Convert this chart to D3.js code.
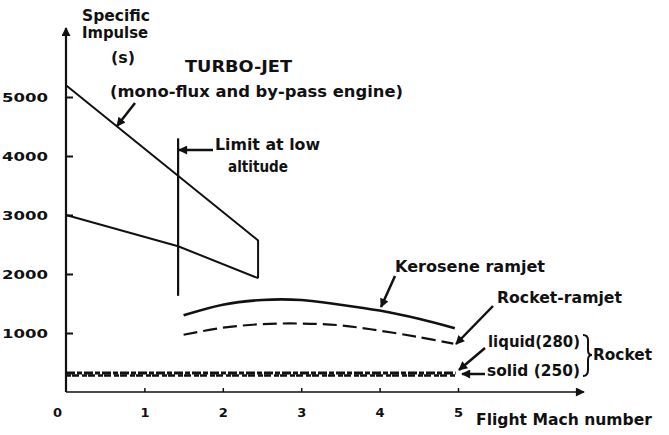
<!DOCTYPE html>
<html>
<head>
<meta charset="utf-8">
<script src="https://cdn.jsdelivr.net/npm/d3@7"></script>
<style>
body { margin: 0; background: #fff; }
text { font-family: "DejaVu Sans", "Liberation Sans", sans-serif; font-weight: bold; fill: #111; }
</style>
</head>
<body>
<div id="main_div"></div>
<script>
// values (Mach number, specific impulse in s)
var xTicks = [0, 1, 2, 3, 4, 5];
var yTicks = [1000, 2000, 3000, 4000, 5000];
var turboUpper = [[0, 5200], [2.45, 2570]];
var turboLower = [[0, 3000], [1.43, 2470], [2.45, 1930]];
var limitLow = [[1.43, 4300], [1.43, 1630]];
var kerosene = [[1.5, 1300], [2, 1480], [2.5, 1560], [3, 1560], [3.5, 1480], [4, 1380], [4.5, 1240], [4.96, 1080]];
var rocketRamjet = [[1.5, 970], [2, 1090], [2.5, 1150], [3, 1160], [3.5, 1130], [4, 1040], [4.5, 930], [4.94, 820]];
var rocketLiquid = [[0, 320], [4.97, 320]];
var rocketSolid = [[0, 280], [4.97, 280]];

var x_scale = d3.scaleLinear().domain([0, 5]).range([66, 458]);
var y_scale = d3.scaleLinear().domain([0, 5000]).range([392, 97]);

var svg = d3.select("#main_div").append("svg").attr("width", 669).attr("height", 435);

var defs = svg.append("defs");
defs.append("marker").attr("id", "head").attr("viewBox", "0 0 10 10")
    .attr("refX", 9).attr("refY", 5).attr("markerWidth", 13).attr("markerHeight", 9)
    .attr("markerUnits", "userSpaceOnUse").attr("orient", "auto")
    .append("path").attr("d", "M0,0 L10,5 L0,10 Z").attr("fill", "#111");

var line = d3.line().x(function(d) { return x_scale(d[0]); }).y(function(d) { return y_scale(d[1]); });
var curve = d3.line().curve(d3.curveCatmullRom).x(function(d) { return x_scale(d[0]); }).y(function(d) { return y_scale(d[1]); });

// axes
var g_y = svg.append("g").attr("transform", "translate(" + x_scale(0) + ",0)")
    .call(d3.axisLeft(y_scale).tickValues(yTicks).tickSizeInner(-7).tickSizeOuter(0).tickPadding(18).tickFormat(d3.format("d")));
g_y.select(".domain").remove();
g_y.selectAll(".tick line").attr("stroke", "#111").attr("stroke-width", 2);
g_y.selectAll(".tick text").attr("font-size", 13).attr("textLength", 46).attr("lengthAdjust", "spacingAndGlyphs")
    .attr("font-family", "DejaVu Sans").attr("fill", "#111");

var g_x = svg.append("g").attr("transform", "translate(0," + y_scale(0) + ")")
    .call(d3.axisBottom(x_scale).tickValues(xTicks).tickSizeInner(-4).tickSizeOuter(0).tickPadding(16).tickFormat(d3.format("d")));
g_x.select(".domain").remove();
g_x.selectAll(".tick line").attr("stroke", "#111").attr("stroke-width", 1.5);
g_x.selectAll(".tick text").attr("font-size", 13).attr("font-family", "DejaVu Sans").attr("fill", "#111");
g_x.selectAll(".tick").filter(function(d) { return d === 0; }).select("text").attr("dx", -9);
g_x.selectAll(".tick").filter(function(d) { return d === 0; }).select("line").remove();

svg.append("line").attr("x1", x_scale(0)).attr("x2", x_scale(0)).attr("y1", y_scale(0)).attr("y2", 28)
    .attr("stroke", "#111").attr("stroke-width", 2.2).attr("marker-end", "url(#head)");
svg.append("line").attr("x1", x_scale(0)).attr("x2", 584).attr("y1", y_scale(0)).attr("y2", y_scale(0))
    .attr("stroke", "#111").attr("stroke-width", 1.6).attr("marker-end", "url(#head)");

// curves
function draw(data, gen, w, dash) {
    svg.append("path").attr("d", gen(data)).attr("fill", "none").attr("stroke", "#111")
        .attr("stroke-width", w).attr("stroke-dasharray", dash || null);
}
draw(turboUpper.concat([turboLower[turboLower.length - 1]]), line, 2);
draw(turboLower, line, 2);
draw(limitLow, line, 2.2);
draw(kerosene, curve, 2.6);
draw(rocketRamjet, curve, 2.2, "14,6");
draw(rocketLiquid, line, 3, "9,2,5,2");
draw(rocketSolid, line, 2.5, "5,1,7,3");

// text
function label(x, y, t, size, w) {
    var el = svg.append("text").attr("x", x).attr("y", y).attr("font-size", size).text(t);
    if (w) el.attr("textLength", w).attr("lengthAdjust", "spacingAndGlyphs");
    return el;
}
function arrow(x1, y1, x2, y2) {
    svg.append("line").attr("x1", x1).attr("y1", y1).attr("x2", x2).attr("y2", y2)
        .attr("stroke", "#111").attr("stroke-width", 2.5).attr("marker-end", "url(#head)");
}

label(82, 21, "Specific", 15, 68);
label(82, 38, "Impulse", 15, 66);
label(111, 63, "(s)", 16, 24);
label(185, 72, "TURBO-JET", 15, 107);
label(110, 97, "(mono-flux and by-pass engine)", 15, 293);
label(215, 150, "Limit at low", 15, 105);
label(228, 172, "altitude", 16, 60);
label(395, 272, "Kerosene ramjet", 15, 150);
label(497, 303, "Rocket-ramjet", 15, 125);
label(488, 347, "liquid(280)", 15, 92);
label(487, 376, "solid (250)", 15, 93);
label(593, 360, "Rocket", 16, 59);
label(476, 425, "Flight Mach number", 15, 176);

arrow(135, 103, 117, 126);
arrow(213, 150, 179, 150);
arrow(395, 276, 381, 307);
arrow(493, 306, 456, 344);
arrow(485, 348, 459, 370);
arrow(485, 374, 462, 374);

// brace for Rocket
svg.append("path").attr("d", "M583,335 Q588,335 588,340 L588,350 Q588,355 592,355 Q588,355 588,360 L588,370 Q588,376 583,376")
    .attr("fill", "none").attr("stroke", "#111").attr("stroke-width", 2);
</script>
</body>
</html>
